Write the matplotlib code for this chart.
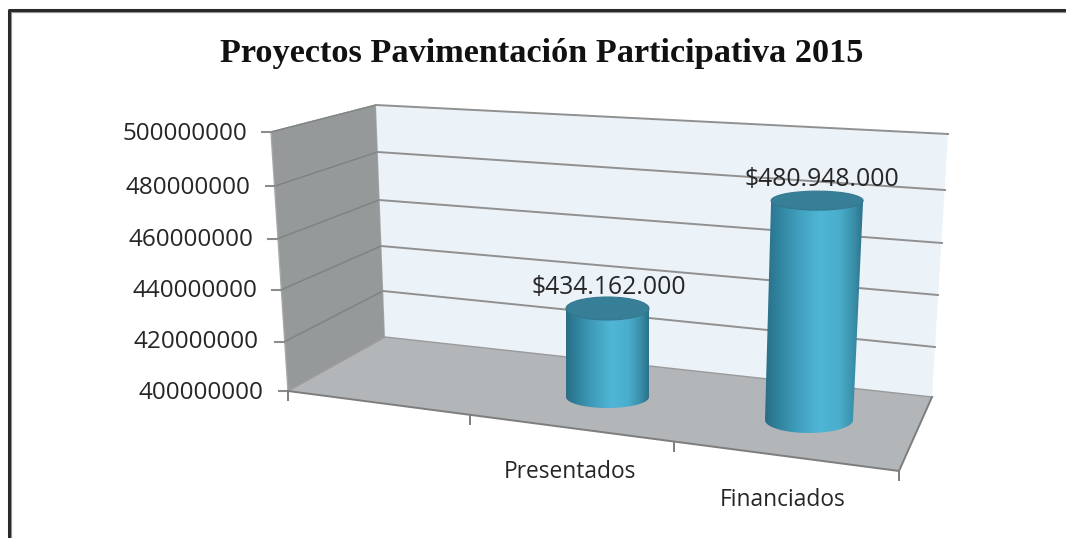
import numpy as np
import matplotlib
matplotlib.use("Agg")
import matplotlib.pyplot as plt
from matplotlib.colors import LinearSegmentedColormap
from matplotlib.patches import Ellipse, Polygon

# --- Data ---
TITLE = "Proyectos Pavimentación Participativa 2015"
categories = ["Presentados", "Financiados"]
values = [434162000, 480948000]
y_ticks = [400000000, 420000000, 440000000, 460000000, 480000000, 500000000]

# --- Layout (pixels of the 3D box, same order as y_ticks) ---
Y_MIN, Y_MAX = y_ticks[0], y_ticks[-1]
front_x = [288, 284, 281, 277, 275, 271]
front_y = [391, 342, 290, 239, 186, 132]
back_x = [385, 383, 381, 379, 377.5, 376]
back_y = [337, 291, 246, 200, 152, 105]
right_x = [932, 935, 938, 942, 945, 948]
right_y = [397, 347, 295, 243, 190, 134]
label_right = [263, 259, 257, 253, 250, 247]
label_y = [393, 342, 291, 240, 188, 134]
FLOOR_FRONT_RIGHT = (899, 471)
cat_ticks_x = [288, 470, 674, 899]
cat_label_pos = [(570, 472), (783, 500)]

# cylinder geometry: base centre, base half sizes, top half sizes, full height, lean
cyl_base = [(607.5, 397), (809, 420)]
cyl_half_w = [(41.5, 41.5), (44, 46)]
cyl_half_h = [(11, 11.5), (13, 9.5)]
cyl_full_h = [259, 271]
cyl_lean = [0, 10]
label_dx = [1, 5]

FONT = "Open Sans"
TEXT = "#262626"

fig = plt.figure(figsize=(10.66, 5.38), dpi=100)
ax = fig.add_axes([0, 0, 1, 1])
ax.axis("off")

# --- Outer frame ---
ax.plot([11, 11, 1066], [538, 12, 12], color="#9a9a9a", lw=1.6, zorder=1)
ax.plot([8.5, 8.5, 1066], [538, 10, 10], color="#2a2a2a", lw=2.2, zorder=1)

# --- Walls and floor ---
left_wall = [(front_x[0], front_y[0]), (front_x[-1], front_y[-1]), (back_x[-1], back_y[-1]), (back_x[0], back_y[0])]
back_wall = [(back_x[0], back_y[0]), (back_x[-1], back_y[-1]), (right_x[-1], right_y[-1]), (right_x[0], right_y[0])]
floor = [(front_x[0], front_y[0]), (back_x[0], back_y[0]), (right_x[0], right_y[0]), FLOOR_FRONT_RIGHT]
ax.add_patch(Polygon(left_wall, fc="#959999", ec="#a8a8a8", lw=1, zorder=2))
ax.add_patch(Polygon(back_wall, fc="#ebf2f8", ec="none", zorder=2))
ax.add_patch(Polygon(floor, fc="#b2b6b9", ec="none", zorder=3))

# --- Gridlines and value axis ---
for i, tick in enumerate(y_ticks):
    if i > 0:
        ax.plot([front_x[i], back_x[i]], [front_y[i], back_y[i]], color="#7f8383", lw=1.1, zorder=3)
        ax.plot([back_x[i], right_x[i]], [back_y[i], right_y[i]], color="#909090", lw=1.4, zorder=3)
    ax.plot([front_x[i] - 9, front_x[i]], [front_y[i], front_y[i]], color="#8c8c8c", lw=1.5, zorder=3)
    ax.text(label_right[i], label_y[i], str(tick), ha="right", va="center",
            family=FONT, fontsize=17.5, color=TEXT)

# --- Floor edges and category ticks ---
ax.plot([front_x[0], FLOOR_FRONT_RIGHT[0], right_x[0]], [front_y[0], FLOOR_FRONT_RIGHT[1], right_y[0]],
        color="#7d7d7d", lw=1.4, zorder=4)
ax.plot([front_x[0], back_x[0], right_x[0]], [front_y[0], back_y[0], right_y[0]],
        color="#9a9a9a", lw=1, zorder=3)
for x in cat_ticks_x:
    t = (x - front_x[0]) / (FLOOR_FRONT_RIGHT[0] - front_x[0])
    y = front_y[0] + t * (FLOOR_FRONT_RIGHT[1] - front_y[0])
    ax.plot([x, x], [y, y + 9], color="#7d7d7d", lw=1.4, zorder=4)

# --- Cylinders ---
cyl_cmap = LinearSegmentedColormap.from_list(
    "cyl", [(0, "#2a6d85"), (0.12, "#2f819c"), (0.32, "#3f9dbb"), (0.55, "#50b6d6"),
            (0.75, "#4aaecd"), (0.9, "#3a8fa9"), (1, "#2b7089")])
gradient = np.linspace(0, 1, 256).reshape(1, -1)

for i, (name, value) in enumerate(zip(categories, values)):
    frac = (value - Y_MIN) / (Y_MAX - Y_MIN)
    xb, yb = cyl_base[i]
    xt = xb + cyl_lean[i] * frac
    yt = yb - cyl_full_h[i] * frac
    wb, wt = cyl_half_w[i]
    hb, ht = cyl_half_h[i]

    # body outline: left side, lower half of the base ellipse, right side
    th = np.linspace(np.pi, 0, 60)
    xs = np.concatenate([[xt - wt], xb + wb * np.cos(th), [xt + wt]])
    ys = np.concatenate([[yt], yb + hb * np.sin(th), [yt]])
    body = Polygon(np.column_stack([xs, ys]), closed=True, fc="none", ec="none", zorder=5)
    ax.add_patch(body)
    im = ax.imshow(gradient, cmap=cyl_cmap, aspect="auto", zorder=5, interpolation="bilinear",
                   extent=[min(xb - wb, xt - wt), max(xb + wb, xt + wt), yb + hb, yt])
    im.set_clip_path(body)

    ax.add_patch(Ellipse((xt, yt), 2 * wt, 2 * ht, fc="#377f97", ec="#34788f", lw=0.8, zorder=6))

    label = "$" + f"{value:,}".replace(",", ".")
    ax.text(xt + label_dx[i], yt - 21, label.replace("$", r"\$"), ha="center", va="center",
            family=FONT, fontsize=17.8, color=TEXT, zorder=7)
    ax.text(cat_label_pos[i][0], cat_label_pos[i][1], name, ha="center", va="center",
            family=FONT, fontsize=16.4, color=TEXT)

ax.text(541.5, 62, TITLE, ha="center", va="baseline", family="Liberation Serif",
        fontweight="bold", fontsize=24.7, color="#111111")

ax.set_xlim(0, 1066)
ax.set_ylim(538, 0)
fig.savefig("out.png", dpi=100, facecolor="white")
